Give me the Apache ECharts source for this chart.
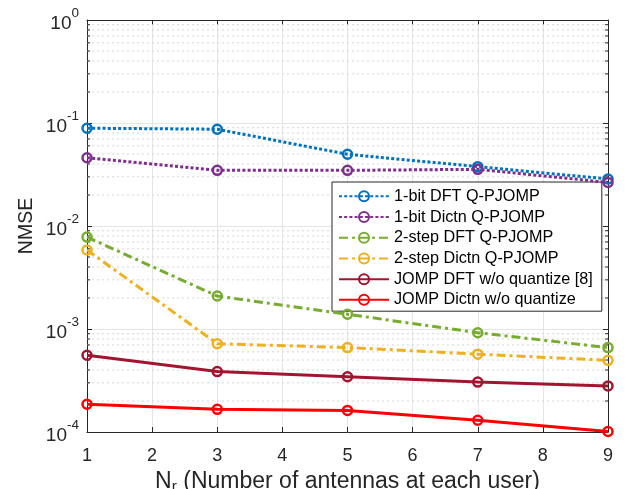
<!DOCTYPE html>
<html>
<head>
<meta charset="utf-8">
<script src="https://cdn.jsdelivr.net/npm/echarts@6/dist/echarts.min.js"></script>
<style>
html,body{margin:0;padding:0;background:#fff;}
#chart{width:627px;height:489px;}
</style>
</head>
<body>
<div id="chart"></div>
<script>
// ---- data ----
var antennas = [1, 3, 5, 7, 9];
var oneBitDFT    = [0.089, 0.087, 0.0497, 0.0377, 0.0286];
var oneBitDictn  = [0.046, 0.0347, 0.0347, 0.0355, 0.0265];
var twoStepDFT   = [0.0078, 0.00209, 0.00139, 0.00092, 0.00066];
var twoStepDictn = [0.00585, 0.00072, 0.00066, 0.00057, 0.000496];
var jompDFT      = [0.000556, 0.000386, 0.000344, 0.000305, 0.00028];
var jompDictn    = [0.000186, 0.000166, 0.000162, 0.00013, 0.000101];
var seriesNames = ['1-bit DFT Q-PJOMP', '1-bit Dictn Q-PJOMP', '2-step DFT Q-PJOMP',
                   '2-step Dictn Q-PJOMP', 'JOMP DFT w/o quantize [8]', 'JOMP Dictn w/o quantize'];
var xTicks = [1, 2, 3, 4, 5, 6, 7, 8, 9];
var yDecades = [1e-4, 1e-3, 1e-2, 1e-1, 1];
var minorMultipliers = [2, 3, 4, 5, 6, 7, 8, 9];

var FONT = 'Liberation Sans, Arial, Helvetica, sans-serif';
var AX = '#262626';
var minorValues = [];
for (var d = 0; d < yDecades.length - 1; d++) {
  for (var m = 0; m < minorMultipliers.length; m++) {
    minorValues.push(+(yDecades[d] * minorMultipliers[m]).toPrecision(3));
  }
}

function pairs(ys) { return antennas.map(function (x, i) { return [x, ys[i]]; }); }

var DOT = [3, 2.2];
var DASHDOT = [9, 4, 3, 4];

function lineSeries(name, ys, color, dash) {
  return {
    name: name, type: 'line', data: pairs(ys),
    symbol: 'circle', symbolSize: 9,
    lineStyle: { color: color, width: 3, type: dash, cap: 'butt' },
    itemStyle: { color: 'rgba(255,255,255,0)', borderColor: color, borderWidth: 2.5 },
    z: 5, clip: false,
    emphasis: { disabled: true }
  };
}

var chart = echarts.init(document.getElementById('chart'), null, { renderer: 'canvas' });
chart.setOption({
  animation: false,
  backgroundColor: '#fff',
  textStyle: { fontFamily: FONT },
  grid: { left: 87, right: 19, top: 20, bottom: 57, containLabel: false, outerBoundsMode: 'none' },
  legend: {
    data: seriesNames,
    orient: 'vertical',
    left: 332, top: 182,
    padding: [4, 9, 1, 6],
    itemWidth: 50, itemHeight: 12.5, itemGap: 0,
    backgroundColor: '#fff',
    borderColor: AX, borderWidth: 1, borderRadius: 0,
    textStyle: { fontSize: 16.2, color: '#000', fontFamily: FONT, lineHeight: 20.7 },
    selectedMode: false
  },
  xAxis: [{
    type: 'value', min: 1, max: 9, interval: 1,
    name: '{n|N}{r|r}{t| (Number of antennas at each user)}',
    nameLocation: 'middle', nameGap: 37, nameMoveOverlap: false,
    nameTextStyle: {
      color: AX, fontFamily: FONT,
      rich: {
        n: { fontSize: 23, lineHeight: 26, color: AX, fontFamily: FONT },
        t: { fontSize: 23, lineHeight: 26, color: AX, fontFamily: FONT },
        r: { fontSize: 15.5, lineHeight: 9, verticalAlign: 'bottom', color: AX, fontFamily: FONT }
      }
    },
    axisLine: { lineStyle: { color: AX, width: 1 } },
    axisTick: { inside: true, length: 5, lineStyle: { color: AX } },
    axisLabel: { fontSize: 18, color: AX, margin: 15, fontFamily: FONT,
      formatter: function (v) { return xTicks.indexOf(v) >= 0 ? String(v) : ''; } },
    splitLine: { show: true, lineStyle: { color: '#e5e5e5', width: 1 } }
  }, {
    type: 'value', min: 1, max: 9, interval: 1, position: 'top',
    axisLine: { show: true, lineStyle: { color: AX, width: 1 } },
    axisTick: { inside: true, length: 5, lineStyle: { color: AX } },
    axisLabel: { show: false }, splitLine: { show: false }
  }],
  yAxis: [{
    type: 'log', logBase: 10, min: 1e-4, max: 1,
    name: 'NMSE', nameLocation: 'middle', nameGap: 50, nameMoveOverlap: false,
    nameTextStyle: { fontSize: 19.5, color: AX, fontFamily: FONT },
    axisLine: { show: true, lineStyle: { color: AX, width: 1 } },
    axisTick: { inside: true, length: 5, lineStyle: { color: AX } },
    axisLabel: {
      margin: 8, color: AX, fontFamily: FONT,
      formatter: function (v) {
        var e = Math.round(Math.log10(v));
        return '{b|10}{s|' + e + '}';
      },
      rich: {
        b: { fontSize: 19, lineHeight: 19, padding: [15, 0, 0, 0], verticalAlign: 'bottom', color: AX, fontFamily: FONT },
        s: { fontSize: 13.5, lineHeight: 27, verticalAlign: 'top', color: AX, fontFamily: FONT }
      }
    },
    splitLine: { show: true, lineStyle: { color: '#e5e5e5', width: 1 } }
  }, {
    type: 'log', logBase: 10, min: 1e-4, max: 1, position: 'right',
    axisLine: { show: true, lineStyle: { color: AX, width: 1 } },
    axisTick: { inside: true, length: 5, lineStyle: { color: AX } },
    axisLabel: { show: false }, splitLine: { show: false }
  }],
  series: [
    {
      name: 'minor', type: 'custom', silent: true, z: 1, clip: false,
      data: minorValues.map(function (v) { return [1, v]; }),
      renderItem: function (params, api) {
        var v = api.value(1);
        var p1 = api.coord([1, v]);
        var p2 = api.coord([9, v]);
        return {
          type: 'group',
          children: [
            { type: 'line', shape: { x1: p1[0], y1: p1[1], x2: p2[0], y2: p2[1] },
              style: { stroke: '#d6d6d6', lineWidth: 1, lineDash: [2, 3] } },
            { type: 'line', shape: { x1: p1[0], y1: p1[1], x2: p1[0] + 3, y2: p1[1] },
              style: { stroke: AX, lineWidth: 1 } },
            { type: 'line', shape: { x1: p2[0] - 3, y1: p2[1], x2: p2[0], y2: p2[1] },
              style: { stroke: AX, lineWidth: 1 } }
          ]
        };
      }
    },
    lineSeries(seriesNames[0], oneBitDFT, '#0072BD', DOT),
    lineSeries(seriesNames[1], oneBitDictn, '#7E2F8E', DOT),
    lineSeries(seriesNames[2], twoStepDFT, '#77AC30', DASHDOT),
    lineSeries(seriesNames[3], twoStepDictn, '#EDB120', DASHDOT),
    lineSeries(seriesNames[4], jompDFT, '#A2142F', 'solid'),
    lineSeries(seriesNames[5], jompDictn, '#FF0000', 'solid')
  ]
});
</script>
</body>
</html>
